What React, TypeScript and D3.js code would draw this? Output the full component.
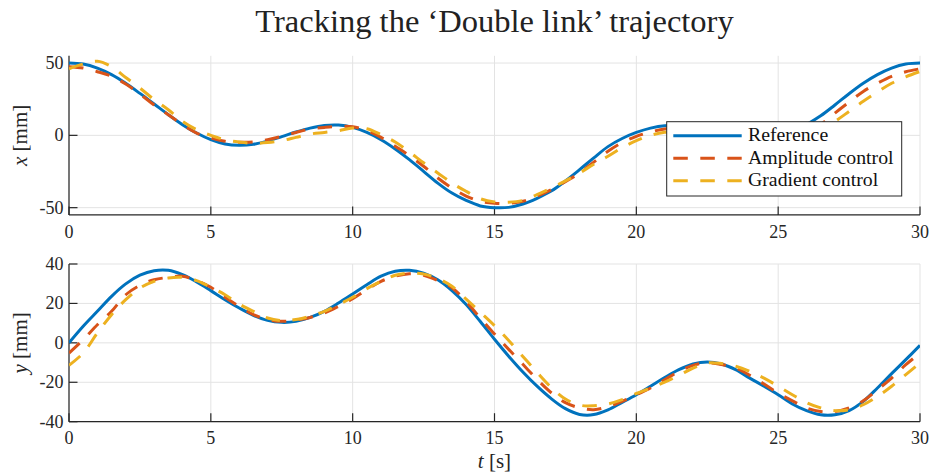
import React from "react";
import * as d3 from "d3";

// ---------- data ----------
const time: number[] = d3.range(0, 30.001, 0.5).map((v) => +v.toFixed(1));

const xReference = [50, 49.3, 46.5, 42, 36, 29, 21.7, 14.3, 7.4, 1.6, -3, -6, -6.9, -6.2, -3.9, -0.9, 2.3, 5, 6.8, 7.1, 5.5, 2, -3, -9.4, -16.8, -24.9, -33, -39.9, -45, -48.8, -50, -49.8, -47.5, -43.5, -38.5, -31.5, -23.7, -15.6, -7.8, -2.2, 2, 5, 6.7, 6.6, 4.5, 1, -3, -6, -6.9, -5.5, -2.5, 2, 7.4, 13.5, 21, 28.8, 36, 42, 46.5, 49.3, 50];
const xAmplitude = [47.5, 46.5, 44, 40.8, 35.5, 28.6, 21, 14.3, 7.4, 1.6, -1.8, -4.1, -4.8, -4.6, -3, -0.7, 2, 4.4, 5.5, 6.2, 6, 3.2, -1.4, -7.6, -14, -21.4, -29.5, -36.4, -42, -45.6, -47, -47, -45.6, -42, -37.6, -32, -26, -18.5, -11, -5, -0.7, 2.3, 4.4, 5, 3.5, 0.5, -2.5, -4.5, -5, -4.5, -2.5, -1, 2.5, 7.5, 15.4, 23, 30.4, 36, 40.8, 44, 46];
const xGradient = [46, 49.3, 51.2, 47.5, 40, 32.7, 24.7, 17.7, 9.7, 3.9, 0, -3, -4.6, -5.5, -5, -3.7, -1.4, 0.9, 2, 3.2, 5, 4.6, 0.5, -4.6, -11.5, -19, -26, -33, -38.7, -43.8, -46, -46.2, -45, -41, -36.4, -31.5, -26, -20, -14.5, -8.5, -3.7, 0, 2.1, 2.8, 2, 0.5, -1.5, -3.5, -4.8, -5.2, -4.5, -2, 1, 4.5, 9.7, 16.5, 23.5, 30, 36, 40.5, 44.2];

const yReference = [0, 8.4, 16, 23.6, 29.9, 34.3, 36.6, 36.8, 34.6, 30.9, 26.5, 21.9, 17.7, 14, 11.4, 10.4, 10.9, 12.9, 16, 20.2, 24.8, 29.5, 33.8, 36.3, 36.8, 35.4, 32, 26.5, 19.4, 10.8, 1.8, -6.8, -14.8, -22, -28.3, -33.4, -36.3, -36.4, -34, -30.2, -26.3, -22, -17.6, -13.6, -10.7, -9.7, -10.7, -13.6, -17.9, -22, -26.3, -31, -34.4, -36.5, -36.5, -34.4, -29.7, -22.9, -15.6, -8.5, -1.3];
const yAmplitude = [-5.2, 1.6, 9.2, 16, 24.4, 29.2, 32, 33.2, 33.8, 31.6, 28.2, 23.1, 18.5, 14.3, 11.8, 10.9, 11.6, 12.9, 15.1, 18.5, 22.4, 27, 31.2, 33.8, 35.1, 34.3, 31.6, 28, 21, 12.5, 4.5, -3.3, -10.9, -18.5, -25.3, -30.3, -33, -33.9, -32.4, -29.7, -26.3, -22.9, -18.7, -14.5, -11.4, -10.2, -11, -12.8, -16.5, -20.9, -25.5, -29.4, -33, -34.8, -34.8, -33, -29.4, -23.8, -17.9, -11.1, -5.2];
const yGradient = [-11.4, -5.2, 5, 14.3, 21.9, 27.8, 31.2, 32.9, 33.2, 31.6, 28.2, 24.4, 19.7, 16, 12.6, 11.3, 11.8, 13.5, 16, 19.4, 23.1, 27.5, 31.2, 34.3, 35.4, 34.9, 32.6, 28.7, 22.2, 15.5, 8.7, 1.2, -6.9, -15, -22.6, -28.5, -31.6, -31.9, -31, -28.8, -25.7, -22.9, -19.9, -16.5, -12.8, -10.2, -10.5, -11.9, -14.5, -17.9, -22, -26.3, -30.3, -33, -34.4, -33.9, -31.4, -27.2, -22, -16.1, -10.2];

const seriesNames = ["Reference", "Amplitude control", "Gradient control"];
const seriesColors = ["#0072BD", "#D95319", "#EDB120"];
const seriesDash = ["none", "14.5,12.5", "14.5,12.5"];

const timeTicks = [0, 5, 10, 15, 20, 25, 30];
const xTicks = [-50, 0, 50];
const yTicks = [-40, -20, 0, 20, 40];

const titleText = "Tracking the \u2018Double link\u2019 trajectory";

// ---------- layout ----------
const W = 931;
const H = 475;
const FONT = "'Liberation Serif', 'Times New Roman', serif";
const AX = "#262626";
const GRID = "#e3e3e3";

const tScale = d3.scaleLinear().domain([0, 30]).range([69, 920]);

type PanelProps = {
  values: number[][];
  domain: [number, number];
  range: [number, number];
  ticks: number[];
  varName: string;
  legend?: boolean;
};

function Panel({ values, domain, range, ticks, varName, legend }: PanelProps) {
  const yScale = d3.scaleLinear().domain(domain).range(range);
  const [x0, x1] = tScale.range();
  const yBottom = range[0];
  const yTop = range[1];
  const line = d3
    .line<number>()
    .x((_, i) => tScale(time[i]))
    .y((d) => yScale(d))
    .curve(d3.curveCatmullRom.alpha(0.5));
  const tickLen = 8.5;
  const clipId = "clip" + varName;

  const lgX = 666.7;
  const lgY = 121.7;
  const lgW = 235;
  const lgH = 74.3;
  const rowY = [135.7, 158.3, 180.7];

  return (
    <g>
      <defs>
        <clipPath id={clipId}>
          <rect x={x0} y={yTop - 4} width={x1 - x0} height={yBottom - yTop + 4} />
        </clipPath>
      </defs>
      {timeTicks.map((t) => (
        <line key={"gx" + t} x1={tScale(t)} x2={tScale(t)} y1={yTop} y2={yBottom} stroke={GRID} strokeWidth={1} />
      ))}
      {ticks.map((v) => (
        <line key={"gy" + v} x1={x0} x2={x1} y1={yScale(v)} y2={yScale(v)} stroke={GRID} strokeWidth={1} />
      ))}
      <line x1={x0} x2={x0} y1={yTop} y2={yBottom} stroke={AX} strokeWidth={1.2} />
      <line x1={x0} x2={x1} y1={yBottom} y2={yBottom} stroke={AX} strokeWidth={1.2} />
      {timeTicks.map((t) => (
        <g key={"tx" + t}>
          <line x1={tScale(t)} x2={tScale(t)} y1={yBottom} y2={yBottom - tickLen} stroke={AX} strokeWidth={1.2} />
          <text x={tScale(t)} y={yBottom + 22.6} textAnchor="middle" fontFamily={FONT} fontSize={18} fill={AX}>
            {t}
          </text>
        </g>
      ))}
      {ticks.map((v) => (
        <g key={"ty" + v}>
          <line x1={x0} x2={x0 + tickLen} y1={yScale(v)} y2={yScale(v)} stroke={AX} strokeWidth={1.2} />
          <text x={63.5} y={yScale(v) + 6} textAnchor="end" fontFamily={FONT} fontSize={18} fill={AX}>
            {v}
          </text>
        </g>
      ))}
      <g clipPath={`url(#${clipId})`}>
        {values.map((vals, i) => (
          <path
            key={"s" + i}
            d={line(vals) || ""}
            fill="none"
            stroke={seriesColors[i]}
            strokeWidth={3}
            strokeDasharray={seriesDash[i]}
          />
        ))}
      </g>
      <text
        transform={`translate(27,${(yTop + yBottom) / 2}) rotate(-90)`}
        textAnchor="middle"
        fontFamily={FONT}
        fontSize={21}
        fill={AX}
      >
        <tspan fontStyle="italic">{varName}</tspan>
        <tspan> [mm]</tspan>
      </text>
      {legend && (
        <g>
          <rect x={lgX} y={lgY} width={lgW} height={lgH} fill="#fff" stroke={AX} strokeWidth={1} />
          {seriesNames.map((n, i) => (
            <g key={"lg" + i}>
              <line
                x1={673.3}
                x2={741.7}
                y1={rowY[i]}
                y2={rowY[i]}
                stroke={seriesColors[i]}
                strokeWidth={3}
                strokeDasharray={seriesDash[i]}
              />
              <text x={748} y={rowY[i] + 5.5} fontFamily={FONT} fontSize={19.8} fill="#111">
                {n}
              </text>
            </g>
          ))}
        </g>
      )}
    </g>
  );
}

export default function App() {
  return (
    <svg
      width={W}
      height={H}
      viewBox={`0 0 ${W} ${H}`}
      style={{ position: "absolute", left: 0, top: 0, background: "#fff" }}
    >
      <rect x={0} y={0} width={W} height={H} fill="#fff" />
      <text x={494.5} y={32} textAnchor="middle" fontFamily={FONT} fontSize={32.5} fill="#222">
        {titleText}
      </text>
      <Panel
        values={[xReference, xAmplitude, xGradient]}
        domain={[-55, 55]}
        range={[214.9, 55.8]}
        ticks={xTicks}
        varName="x"
        legend
      />
      <Panel
        values={[yReference, yAmplitude, yGradient]}
        domain={[-40, 40]}
        range={[421.7, 264]}
        ticks={yTicks}
        varName="y"
      />
      <text x={494.5} y={468} textAnchor="middle" fontFamily={FONT} fontSize={21} fill={AX}>
        <tspan fontStyle="italic">t</tspan>
        <tspan> [s]</tspan>
      </text>
    </svg>
  );
}
